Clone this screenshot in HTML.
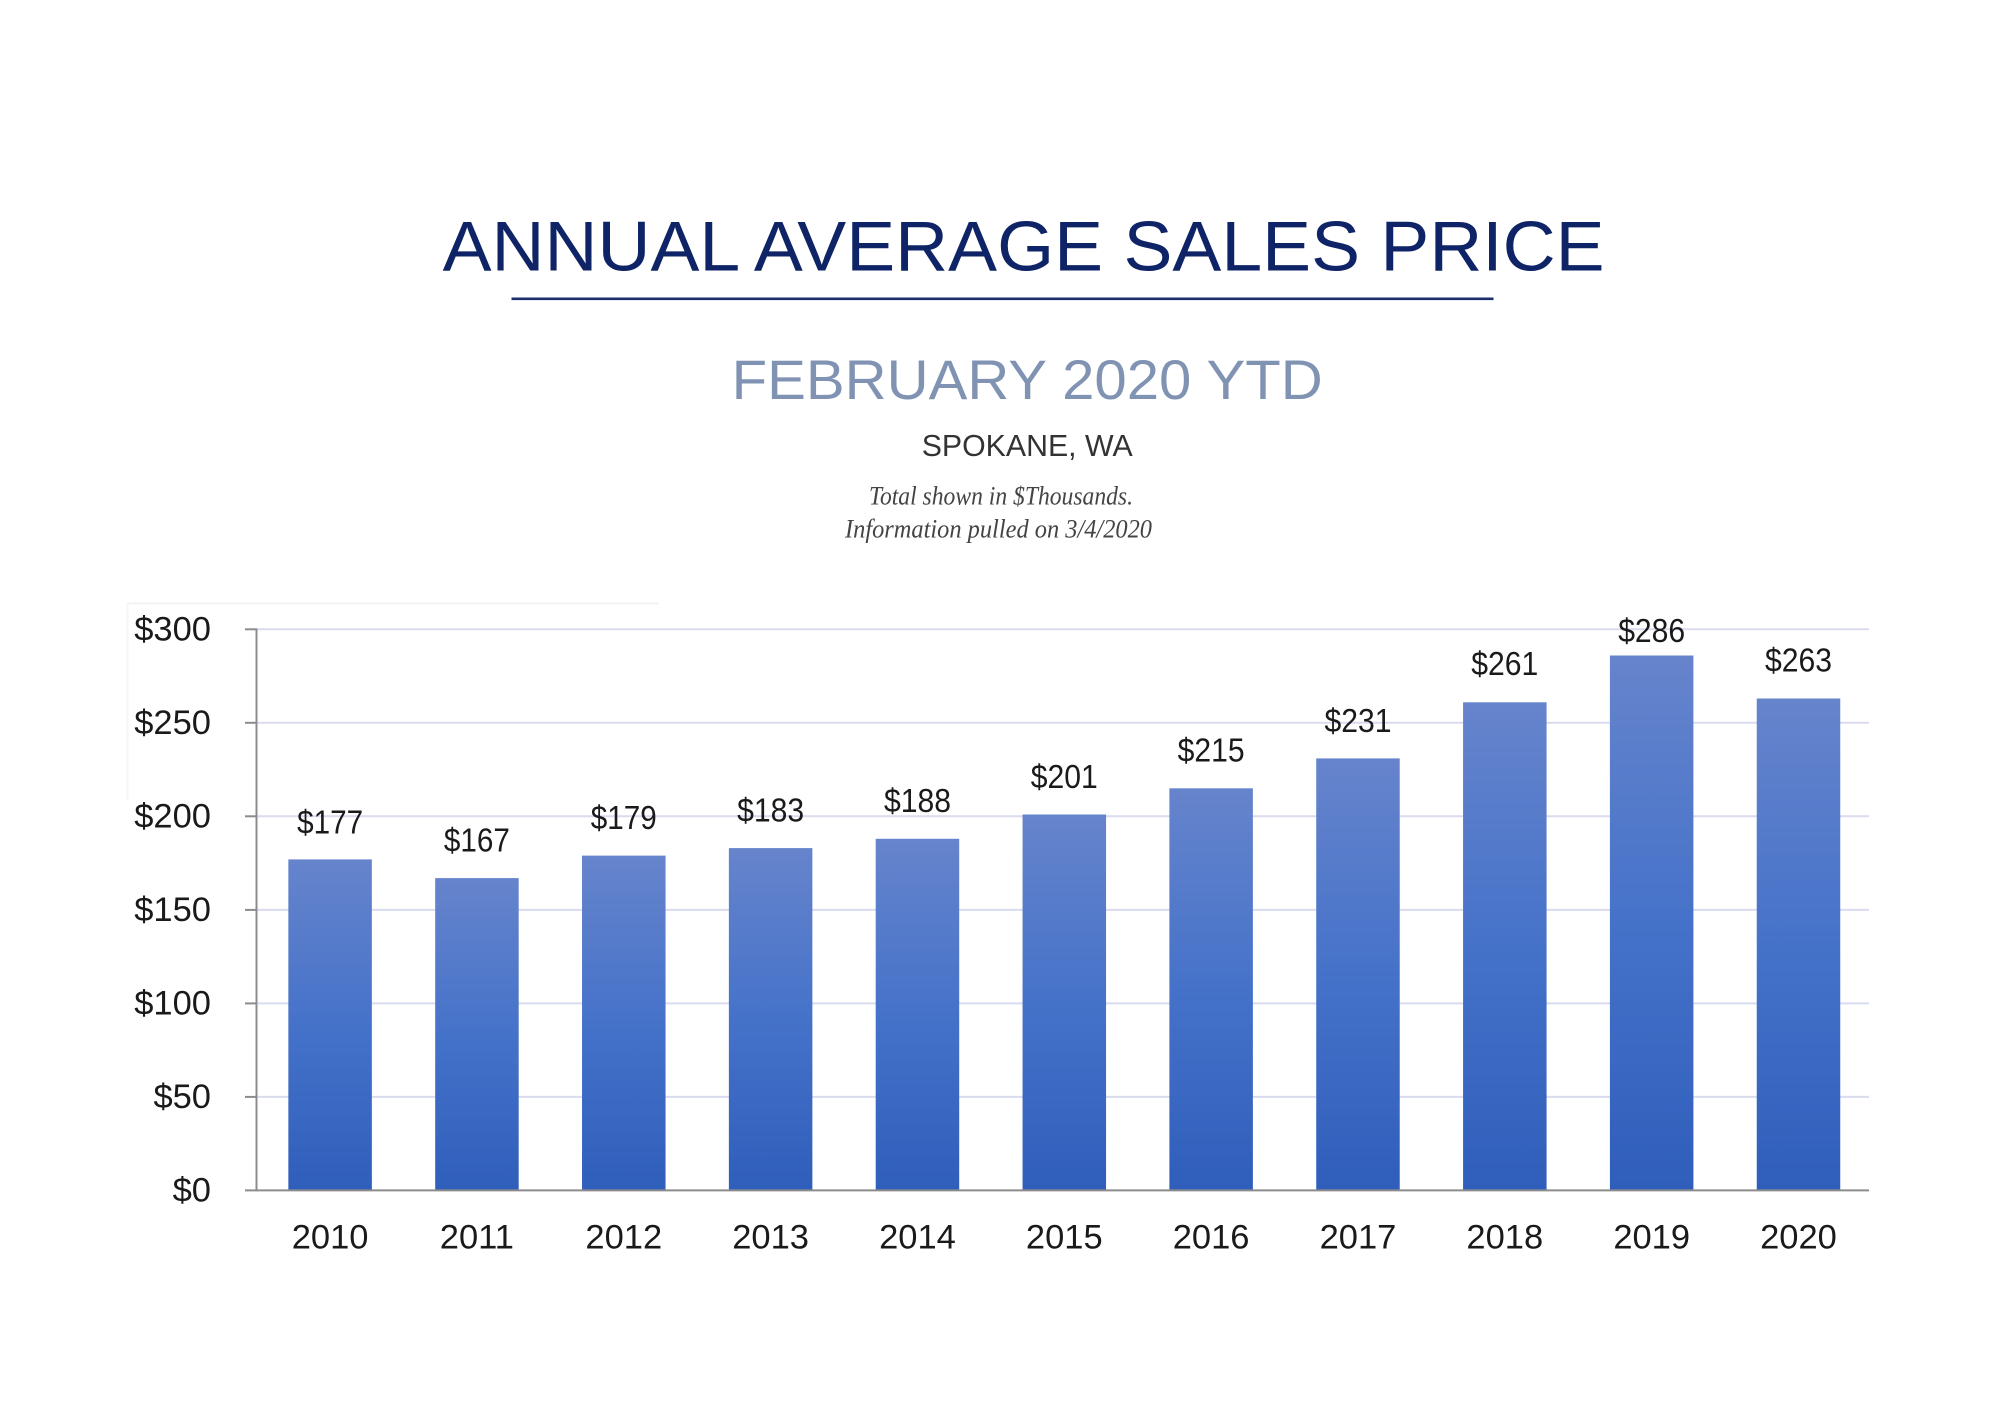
<!DOCTYPE html>
<html>
<head>
<meta charset="utf-8">
<style>
  html, body { margin: 0; padding: 0; background: #ffffff; }
  body { width: 2000px; height: 1408px; overflow: hidden; }
  svg { display: block; }
</style>
</head>
<body>
<svg width="2000" height="1408" viewBox="0 0 2000 1408" xmlns="http://www.w3.org/2000/svg">
  <defs>
    <linearGradient id="bar" x1="0" y1="0" x2="0" y2="1">
      <stop offset="0" stop-color="#6684cc"/>
      <stop offset="0.5" stop-color="#4572c9"/>
      <stop offset="1" stop-color="#2f5ebb"/>
    </linearGradient>
  </defs>
  <rect x="0" y="0" width="2000" height="1408" fill="#ffffff"/>

  <!-- Titles -->
  <text x="442.6" y="270.7" font-family="Liberation Sans, sans-serif" font-size="70.5" fill="#0f2466" textLength="1162" lengthAdjust="spacingAndGlyphs">ANNUAL AVERAGE SALES PRICE</text>
  <rect x="511.5" y="297.5" width="982" height="2.6" fill="#1c2e6e"/>
  <text x="731.7" y="399" font-family="Liberation Sans, sans-serif" font-size="55.8" fill="#8193b3" textLength="591" lengthAdjust="spacingAndGlyphs">FEBRUARY 2020 YTD</text>
  <text x="921.7" y="456" font-family="Liberation Sans, sans-serif" font-size="31" fill="#333333" textLength="211" lengthAdjust="spacingAndGlyphs">SPOKANE, WA</text>
  <text x="869" y="504.3" font-family="Liberation Serif, serif" font-style="italic" font-size="26.6" fill="#444444" textLength="264" lengthAdjust="spacingAndGlyphs">Total shown in $Thousands.</text>
  <text x="845" y="537.7" font-family="Liberation Serif, serif" font-style="italic" font-size="26.6" fill="#444444" textLength="307" lengthAdjust="spacingAndGlyphs">Information pulled on 3/4/2020</text>

  <!-- faint chart-area box edge -->
  <line x1="127" y1="603.5" x2="659" y2="603.5" stroke="#f3f3f3" stroke-width="2"/>
  <line x1="127.5" y1="603" x2="127.5" y2="800" stroke="#f5f5f5" stroke-width="2"/>

  <!-- Gridlines -->
  <g stroke="#d9dcef" stroke-width="2">
    <line x1="256" y1="629.3" x2="1869" y2="629.3"/>
    <line x1="256" y1="722.8" x2="1869" y2="722.8"/>
    <line x1="256" y1="816.3" x2="1869" y2="816.3"/>
    <line x1="256" y1="909.9" x2="1869" y2="909.9"/>
    <line x1="256" y1="1003.4" x2="1869" y2="1003.4"/>
    <line x1="256" y1="1096.9" x2="1869" y2="1096.9"/>
  </g>

  <!-- Bars -->
  <g fill="url(#bar)">
    <rect x="288.35" y="859.4" width="83.5" height="331.0"/>
    <rect x="435.19" y="878.1" width="83.5" height="312.3"/>
    <rect x="582.03" y="855.6" width="83.5" height="334.8"/>
    <rect x="728.87" y="848.1" width="83.5" height="342.3"/>
    <rect x="875.71" y="838.8" width="83.5" height="351.6"/>
    <rect x="1022.55" y="814.5" width="83.5" height="375.9"/>
    <rect x="1169.39" y="788.3" width="83.5" height="402.1"/>
    <rect x="1316.23" y="758.4" width="83.5" height="432.0"/>
    <rect x="1463.07" y="702.3" width="83.5" height="488.1"/>
    <rect x="1609.91" y="655.5" width="83.5" height="534.9"/>
    <rect x="1756.75" y="698.5" width="83.5" height="491.9"/>
  </g>

  <!-- Axes -->
  <g stroke="#8c8c8c" stroke-width="2">
    <line x1="256.5" y1="628.5" x2="256.5" y2="1191.4"/>
    <line x1="245" y1="1190.4" x2="1869" y2="1190.4"/>
    <line x1="245" y1="629.3" x2="256.5" y2="629.3"/>
    <line x1="245" y1="722.8" x2="256.5" y2="722.8"/>
    <line x1="245" y1="816.3" x2="256.5" y2="816.3"/>
    <line x1="245" y1="909.9" x2="256.5" y2="909.9"/>
    <line x1="245" y1="1003.4" x2="256.5" y2="1003.4"/>
    <line x1="245" y1="1096.9" x2="256.5" y2="1096.9"/>
  </g>

  <!-- Y-axis labels -->
  <g font-family="Liberation Sans, sans-serif" font-size="34.5" fill="#1a1a1a" text-anchor="end">
    <text x="211" y="640.5">$300</text>
    <text x="211" y="734">$250</text>
    <text x="211" y="827.5">$200</text>
    <text x="211" y="921">$150</text>
    <text x="211" y="1014.5">$100</text>
    <text x="211" y="1108">$50</text>
    <text x="211" y="1201.5">$0</text>
  </g>

  <!-- Value labels -->
  <g font-family="Liberation Sans, sans-serif" font-size="33" fill="#1a1a1a" text-anchor="middle">
    <text x="330.1" y="833.3" textLength="66" lengthAdjust="spacingAndGlyphs">$177</text>
    <text x="476.9" y="851.5" textLength="66" lengthAdjust="spacingAndGlyphs">$167</text>
    <text x="623.8" y="829" textLength="66" lengthAdjust="spacingAndGlyphs">$179</text>
    <text x="770.6" y="821.5" textLength="67" lengthAdjust="spacingAndGlyphs">$183</text>
    <text x="917.5" y="812.2" textLength="67" lengthAdjust="spacingAndGlyphs">$188</text>
    <text x="1064.3" y="787.8" textLength="67" lengthAdjust="spacingAndGlyphs">$201</text>
    <text x="1211.1" y="761.7" textLength="67" lengthAdjust="spacingAndGlyphs">$215</text>
    <text x="1358" y="732" textLength="67" lengthAdjust="spacingAndGlyphs">$231</text>
    <text x="1504.8" y="675" textLength="67" lengthAdjust="spacingAndGlyphs">$261</text>
    <text x="1651.7" y="642.2" textLength="67" lengthAdjust="spacingAndGlyphs">$286</text>
    <text x="1798.5" y="671.7" textLength="67" lengthAdjust="spacingAndGlyphs">$263</text>
  </g>

  <!-- X-axis labels -->
  <g font-family="Liberation Sans, sans-serif" font-size="34.5" fill="#1a1a1a" text-anchor="middle">
    <text x="330.1" y="1248.5">2010</text>
    <text x="476.9" y="1248.5">2011</text>
    <text x="623.8" y="1248.5">2012</text>
    <text x="770.6" y="1248.5">2013</text>
    <text x="917.5" y="1248.5">2014</text>
    <text x="1064.3" y="1248.5">2015</text>
    <text x="1211.1" y="1248.5">2016</text>
    <text x="1358" y="1248.5">2017</text>
    <text x="1504.8" y="1248.5">2018</text>
    <text x="1651.7" y="1248.5">2019</text>
    <text x="1798.5" y="1248.5">2020</text>
  </g>
</svg>
</body>
</html>
